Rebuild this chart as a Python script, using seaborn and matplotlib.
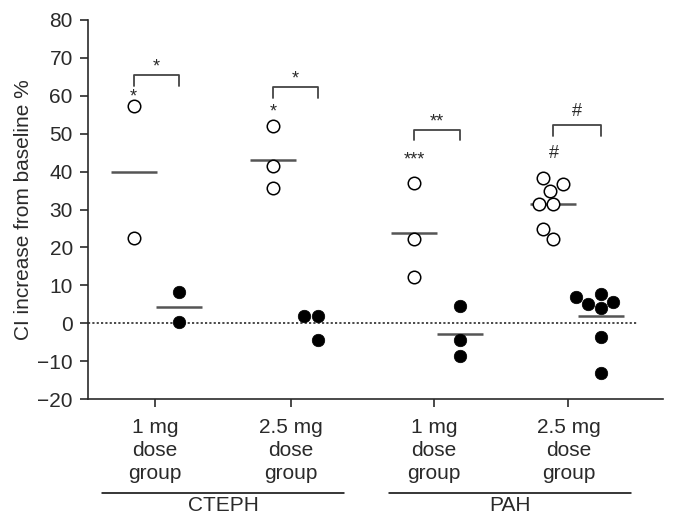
import numpy as np
import pandas as pd
import matplotlib.pyplot as plt
import matplotlib.transforms as mtransforms
import seaborn as sns

# CI increase from baseline (%), one value per patient
# open circles / filled circles for each dose group
open_values = [
    [57.2, 22.6],                                # CTEPH 1 mg
    [52.1, 41.5, 35.8],                          # CTEPH 2.5 mg
    [37.1, 22.3, 12.3],                          # PAH 1 mg
    [38.2, 36.8, 35.0, 31.4, 31.4, 24.8, 22.2],  # PAH 2.5 mg
]
filled_values = [
    [8.2, 0.2],
    [1.9, 1.9, -4.5],
    [4.6, -4.4, -8.6],
    [7.8, 6.9, 5.6, 5.0, 4.0, -3.6, -13.1],
]
tick_labels = ["1 mg\ndose\ngroup", "2.5 mg\ndose\ngroup",
               "1 mg\ndose\ngroup", "2.5 mg\ndose\ngroup"]
group_names = ["CTEPH", "PAH"]
bracket_marks = ["*", "*", "**", "#"]
open_marks = ["*", "*", "***", "#"]

# layout
tick_pos = [0, 1, 2.05, 3.04]
open_shift = [-0.157, -0.132, -0.143, -0.11]
filled_shift = [0.174, 0.2, 0.19, 0.24]
bracket_top = [65.4, 62.3, 51.1, 52.2]
bracket_text_y = [66.4, 63.3, 51.8, 54.6]
open_text_y = [58.6, 54.6, 42.0, 43.6]
group_center = [0.5, 2.61]

rows = []
for i in range(4):
    for v in open_values[i]:
        rows.append({"group": i, "kind": "open", "x": tick_pos[i] + open_shift[i], "value": v})
    for v in filled_values[i]:
        rows.append({"group": i, "kind": "filled", "x": tick_pos[i] + filled_shift[i], "value": v})
df = pd.DataFrame(rows)

sns.set_style("ticks")
plt.rcParams['font.family'] = ['Liberation Sans', 'DejaVu Sans']

fig = plt.figure(figsize=(6.73, 5.15), dpi=100)
ax = fig.add_axes([0.1308, 0.2252, 0.8542, 0.736])

dark = "#2a2a2a"

# zero reference
ax.axhline(0, xmin=0, xmax=0.955, color=dark, lw=1.2, ls=(0, (1.3, 1.3)), zorder=1)

# mean lines (the filled CTEPH 2.5 mg mean sits on the zero line and is not shown)
means = df[~((df["kind"] == "filled") & (df["group"] == 1))]
sns.pointplot(data=means, x="x", y="value", native_scale=True, orient="x",
              estimator="mean", errorbar=None, markers="_", linestyle="none",
              color="#555555", markersize=33, markeredgewidth=1.8, zorder=3, ax=ax)

sns.swarmplot(data=df[df["kind"] == "open"], x="x", y="value", native_scale=True,
              orient="x", color="white", edgecolor="black", linewidth=1.1,
              size=9, zorder=4, ax=ax)
sns.swarmplot(data=df[df["kind"] == "filled"], x="x", y="value", native_scale=True,
              orient="x", color="black", edgecolor="black", linewidth=0.5,
              size=9, zorder=4, ax=ax)

# significance brackets
for i in range(4):
    x0 = tick_pos[i] + open_shift[i]
    x1 = tick_pos[i] + filled_shift[i]
    top = bracket_top[i]
    ax.plot([x0, x0, x1, x1], [top - 2.8, top, top, top - 2.8], color="#444444", lw=1.3)
    ax.text((x0 + x1) / 2, bracket_text_y[i], bracket_marks[i], ha="center", va="baseline",
            fontsize=13, color=dark)
    ax.text(x0, open_text_y[i], open_marks[i], ha="center", va="baseline",
            fontsize=13, color=dark)

ax.set_xlim(-0.493, 3.735)
ax.set_ylim(-20, 80)
ax.set_yticks(range(-20, 81, 10))
ax.set_xticks(tick_pos)
ax.set_xticklabels(tick_labels, linespacing=1.25)
ax.set_xlabel("")
ax.set_ylabel("CI increase from baseline %", fontsize=15, color=dark, labelpad=3)
ax.tick_params(axis="both", labelsize=15, colors=dark, length=6, width=1.2, pad=5)
ax.tick_params(axis="x", pad=8)
sns.despine(ax=ax)
for s in ["left", "bottom"]:
    ax.spines[s].set_color(dark)
    ax.spines[s].set_linewidth(1.2)

# disease group labels under the dose groups
trans = mtransforms.blended_transform_factory(ax.transData, fig.transFigure)
for c, name in zip(group_center, group_names):
    ax.plot([c - 0.888, c + 0.888], [0.0421, 0.0421], transform=trans, color="black",
            lw=1.1, clip_on=False)
    ax.text(c, 0.0075, name, transform=trans, ha="center", va="baseline",
            fontsize=15, color=dark)

fig.savefig("out.png", dpi=100)
